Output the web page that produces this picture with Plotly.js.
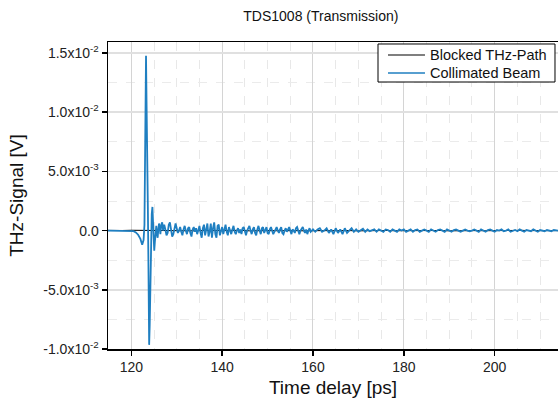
<!DOCTYPE html>
<html>
<head>
<meta charset="utf-8">
<script src="https://cdn.plot.ly/plotly-3.0.1.min.js"></script>
<style>html,body{margin:0;padding:0;background:#fff;}#chart{width:558px;height:402px;}</style>
</head>
<body>
<div id="chart"></div>
<script>
// Signal values are stored in units of 1e-4 V
const pulseTime = [114,116,118,119,120,120.5,121,121.5,122,122.4,122.7,122.9,123.05,123.15,123.24,123.35,123.45,123.55,123.65,123.75,123.85,123.93,124.05,124.2,124.35,124.5,124.65,124.8,124.95,125.05,125.2,125.35,125.5,125.65,125.8,125.95,126.1,126.25,126.4,126.6,126.8,127.0];
const pulseSignal = [0,0,0,0,0,-0.5,-1.5,-3.5,-7,-12,-8,5,70,125,147.6,110,55,25,18,-20,-75,-96.5,-80,-35,-5,14,20,6,-12,-17,-9,0,4,-3,-6,1,6,3,-3,5,7,0];

const ringTime = [127.25,127.5,127.75,128,128.25,128.5,128.75,129,129.25,129.5,129.75,130,130.25,130.5,130.75,131,131.25,131.5,131.75,132,132.25,132.5,132.75,133,133.25,133.5,133.75,134,134.25,134.5,134.75,135,135.25,135.5,135.75,136,136.25,136.5,136.75,137,137.25,137.5,137.75,138,138.25,138.5,138.75,139,139.25,139.5,139.75,140,140.25,140.5,140.75,141,141.25,141.5,141.75,142,142.25,142.5,142.75,143,143.25,143.5,143.75,144,144.25,144.5,144.75,145,145.25,145.5,145.75,146,146.25,146.5,146.75,147,147.25,147.5,147.75,148,148.25,148.5,148.75,149,149.25,149.5,149.75,150,150.25,150.5,150.75,151,151.25,151.5,151.75,152,152.25,152.5,152.75,153,153.25,153.5,153.75,154,154.25,154.5,154.75,155,155.25,155.5,155.75,156,156.25,156.5,156.75,157,157.25,157.5,157.75,158,158.25,158.5,158.75,159,159.25,159.5,159.75,160];
const ringSignal = [5,1,-4,-2,5,7,1,-5,-3,3,6,2,-2,0,3,-1,-4,1,4,0,-3,2,3,-2,-5,1,3,-1,2,-3,1,4,-2,-6,2,5,-4,3,6,-5,-1,6,-6,2,7,-3,-6,4,5,-4,1,3,-3,2,5,-1,-4,3,0,-3,1,4,-1,-3,0,2,-2,1,-3,2,3,-1,-4,0,3,4,0,-3,1,3,-2,-4,1,4,0,-3,2,3,-2,0,3,-2,-3,1,3,0,-3,-1,2,3,0,-2,1,3,-2,-3,0,2,-1,2,3,0,-3,1,0,-2,2,3,-1,-3,0,2,3,0,-2,1,-3,0,2,-1,0,1];

const tailTime = [160.5,161,161.5,162,162.5,163,163.5,164,164.5,165,165.5,166,166.5,167,167.5,168,168.5,169,169.5,170,170.5,171,171.5,172,172.5,173,173.5,174,174.5,175,175.5,176,176.5,177,177.5,178,178.5,179,179.5,180,180.5,181,181.5,182,182.5,183,183.5,184,184.5,185,185.5,186,186.5,187,187.5,188,188.5,189,189.5,190,190.5,191,191.5,192,192.5,193,193.5,194,194.5,195,195.5,196,196.5,197,197.5,198,198.5,199,199.5,200,200.5,201,201.5,202,202.5,203,203.5,204,204.5,205,205.5,206,206.5,207,207.5,208,208.5,209,209.5,210,210.5,211,211.5,212,212.5,213,213.5,214];
const tailSignal = [-1,1,2,-1,0,2,-2,1,-3,2,-2,1,-3,2,-2,0,2,-1,1,-1,0,1.5,-1,1,-0.5,0,1,-1,1,0,-1,1,0.5,-1,1,0,-1,1,0,1,-1,0,1,-1,0.5,1,-1,0,1,0,-1,1,0,-1,0.5,1,0,-1,1,0,-1,0.5,1,0,-1,0,1,0,-0.5,0,1,0,-1,1,0,-1,0.5,1,0,-1,0.5,0,1,-0.5,0,1,-1,0,0.5,-0.5,1,0,-1,0.5,0,-0.5,1,0,-1,0.5,0,-0.5,0.5,0,-0.5,0.5,0,0];

const blockedTime = [114,116,118,120,122,124,126,128,130,132,134,136,138,140,142,144,146,148,150,152,154,156,158,160,162,164,166,168,170,172,174,176,178,180,182,184,186,188,190,192,194,196,198,200,202,204,206,208,210,212,214];
const blockedSignal = [0.2,-0.1,0.1,0.3,0.2,0.3,0.1,-0.2,0.2,0,-0.2,0.1,0.2,-0.1,0,0.2,-0.2,0.1,0,-0.1,0.2,0,-0.2,0.1,0,-0.1,0.2,0,-0.2,0.1,0,0.1,-0.1,0,0.2,-0.1,0,0.1,-0.2,0,0.1,0,-0.1,0.1,0,-0.1,0.2,0,-0.1,0.1,0];

const seriesNames = ['Blocked THz-Path', 'Collimated Beam'];
const seriesColors = ['#000000', '#1f7fc1'];

const yTickVals = [-0.01,-0.005,0,0.005,0.01,0.015];
const yTickText = ['-1.0x10<sup>-2</sup>','-5.0x10<sup>-3</sup>','0.0','5.0x10<sup>-3</sup>','1.0x10<sup>-2</sup>','1.5x10<sup>-2</sup>'];

const toVolts = a => a.map(v => v * 1e-4);
const collTime = pulseTime.concat(ringTime, tailTime);
const collSignal = toVolts(pulseSignal.concat(ringSignal, tailSignal));

const font = 'Liberation Sans, Arial, sans-serif';
const traces = [
  {x: blockedTime, y: toVolts(blockedSignal), type: 'scatter', mode: 'lines', name: seriesNames[0], line: {color: seriesColors[0], width: 1}},
  {x: collTime, y: collSignal, type: 'scatter', mode: 'lines', name: seriesNames[1], line: {color: seriesColors[1], width: 1.8}}
];

// Legend box drawn in paper coordinates (plot area: 450 x 307 px)
const legLeft = 0.6, legRight = 0.9933, legTop = 0.9935, legBottom = 0.8697;
const rowY = [0.9577, 0.899];
const sampleX0 = 0.6222, sampleX1 = 0.7044, textX = 0.7111;
const shapes = [
  {type: 'rect', xref: 'paper', yref: 'paper', x0: legLeft, x1: legRight, y0: legBottom, y1: legTop, line: {color: '#000000', width: 1}, fillcolor: '#ffffff', layer: 'above'}
];
const annotations = [];
seriesNames.forEach((n, i) => {
  shapes.push({type: 'line', xref: 'paper', yref: 'paper', x0: sampleX0, x1: sampleX1, y0: rowY[i], y1: rowY[i], line: {color: seriesColors[i], width: i === 0 ? 1.2 : 1.5}, layer: 'above'});
  annotations.push({xref: 'paper', yref: 'paper', x: textX, y: rowY[i], xanchor: 'left', yanchor: 'middle', text: n, showarrow: false, font: {size: 14.5, family: font, color: '#111111'}});
});

const layout = {
  width: 558, height: 402,
  margin: {l: 108, r: 0, t: 42, b: 53},
  paper_bgcolor: '#ffffff', plot_bgcolor: '#ffffff',
  font: {family: font, color: '#222222'},
  title: {text: 'TDS1008 (Transmission)', font: {size: 14, family: font, color: '#111111'}, xref: 'paper', x: 0.473, xanchor: 'center', yref: 'container', y: 0.96, yanchor: 'middle'},
  showlegend: false,
  shapes: shapes,
  annotations: annotations,
  xaxis: {
    range: [114.87, 213.94], tickmode: 'linear', tick0: 0, dtick: 20,
    ticks: 'outside', ticklen: 5, tickwidth: 1.5, tickcolor: '#000000',
    showline: true, linecolor: '#000000', linewidth: 1.5, mirror: true,
    showgrid: true, gridcolor: '#d4d4d4', gridwidth: 1, zeroline: false,
    tickfont: {size: 14, family: font, color: '#222222'},
    title: {text: 'Time delay [ps]', font: {size: 19, family: font, color: '#111111'}, standoff: 6},
    minor: {tick0: 0, dtick: 5, showgrid: true, gridcolor: '#e8e8e8', griddash: 'dash', gridwidth: 1, ticks: ''}
  },
  yaxis: {
    range: [-0.01, 0.01593], tickmode: 'array', tickvals: yTickVals, ticktext: yTickText,
    ticks: 'outside', ticklen: 5, tickwidth: 1.5, tickcolor: '#000000',
    showline: true, linecolor: '#000000', linewidth: 1.5, mirror: false,
    showgrid: true, gridcolor: '#e0e0e0', gridwidth: 1.5, zeroline: false,
    tickfont: {size: 14, family: font, color: '#222222'},
    title: {text: 'THz-Signal [V]', font: {size: 19, family: font, color: '#111111'}, standoff: 14},
    minor: {tickmode: 'linear', tick0: 0.0025, dtick: 0.005, showgrid: true, gridcolor: '#ebebeb', griddash: 'dash', gridwidth: 1, ticks: ''}
  }
};
Plotly.newPlot('chart', traces, layout, {displayModeBar: false, staticPlot: true});
</script>
</body>
</html>
